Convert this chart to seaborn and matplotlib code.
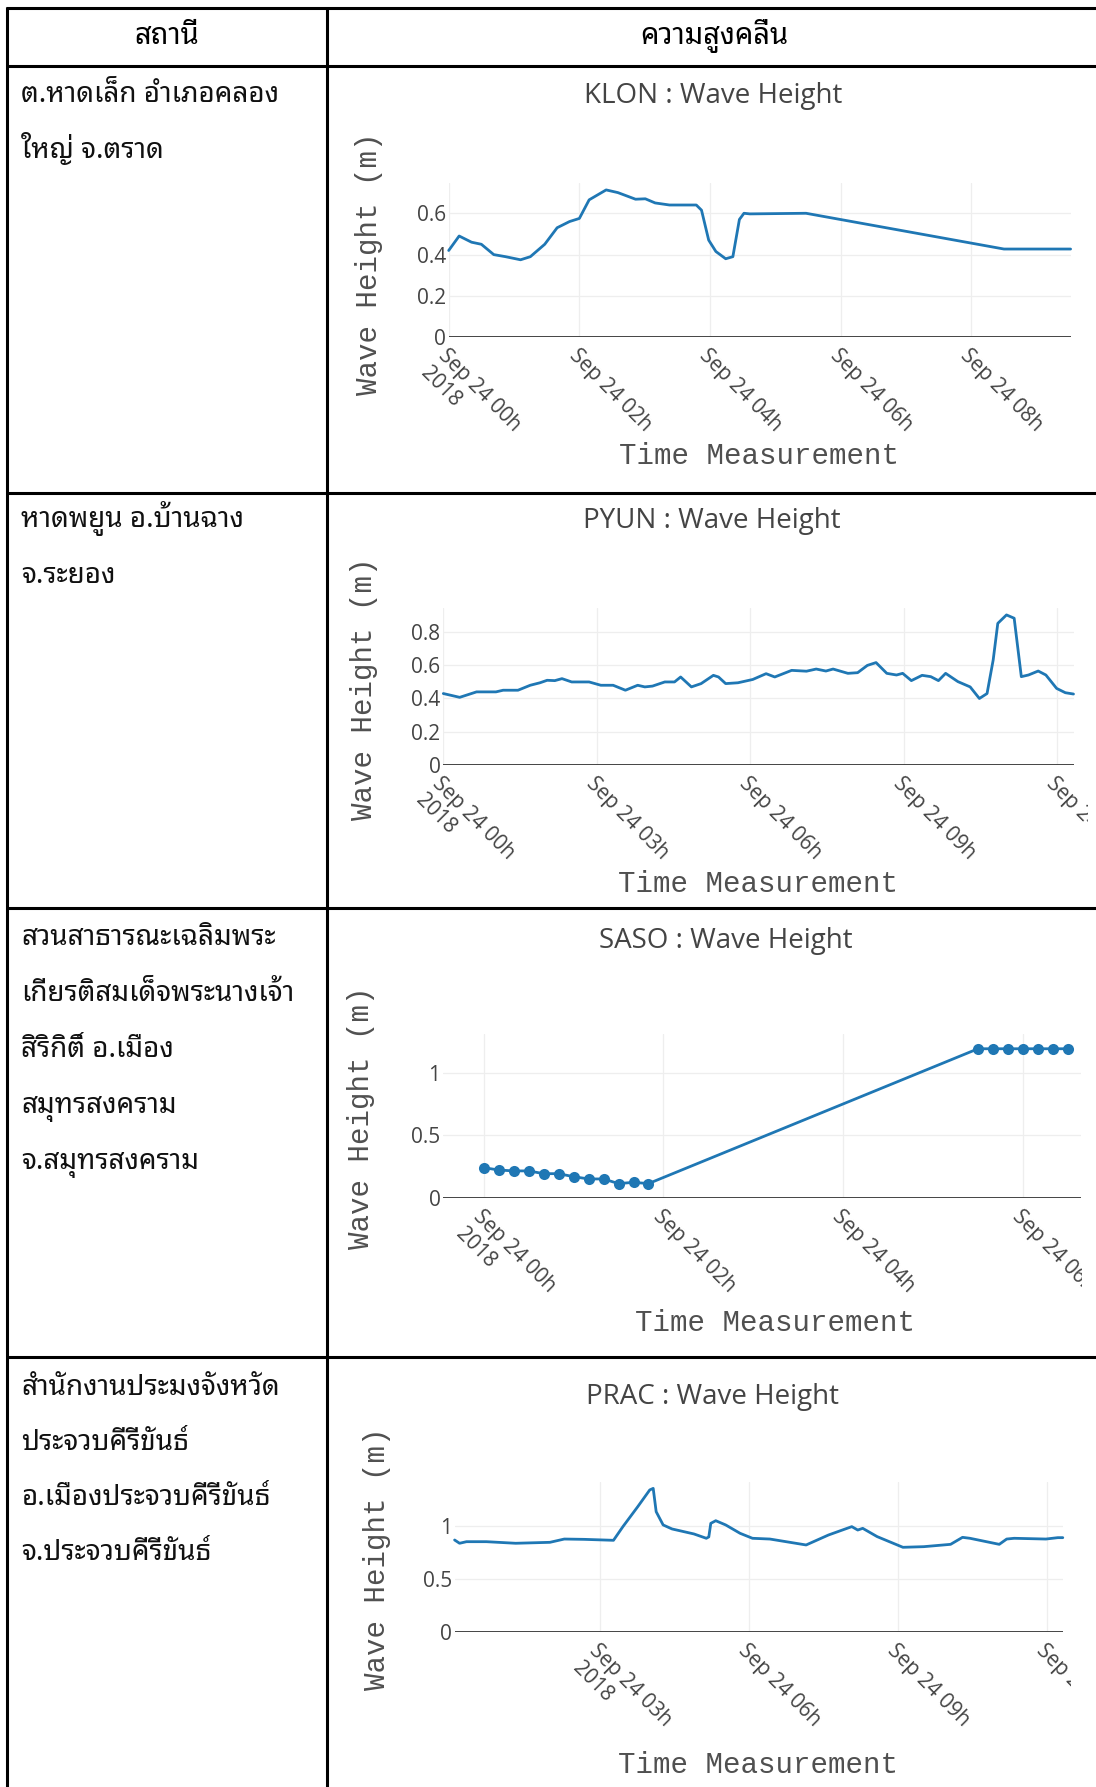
import matplotlib
matplotlib.use("Agg")
import matplotlib.pyplot as plt
import seaborn as sns
from matplotlib.lines import Line2D
from matplotlib.transforms import Bbox, TransformedBbox
from matplotlib import font_manager as fm
from matplotlib.ft2font import FT2Font

# ---------------- data ----------------
header_left = "สถานี"
header_right = "ความสูงคลื่น"

station_lines = [
    ["ต.หาดเล็ก อำเภอคลอง", "ใหญ่ จ.ตราด"],
    ["หาดพยูน อ.บ้านฉาง", "จ.ระยอง"],
    ["สวนสาธารณะเฉลิมพระ", "เกียรติสมเด็จพระนางเจ้า", "สิริกิติ์ อ.เมือง",
     "สมุทรสงคราม", "จ.สมุทรสงคราม"],
    ["สำนักงานประมงจังหวัด", "ประจวบคีรีขันธ์", "อ.เมืองประจวบคีรีขันธ์",
     "จ.ประจวบคีรีขันธ์"],
]

chart_titles = ["KLON : Wave Height", "PYUN : Wave Height",
                "SASO : Wave Height", "PRAC : Wave Height"]
y_title = "Wave Height (m)"
x_title = "Time Measurement"

# hours after Sep 24 2018 00:00, wave height in metres
klon_hours = [0.0, 0.16, 0.35, 0.50, 0.69, 0.87, 1.10, 1.25, 1.47, 1.66, 1.85,
              2.00, 2.15, 2.41, 2.59, 2.86, 3.01, 3.16, 3.38, 3.79, 3.87, 3.98,
              4.09, 4.24, 4.35, 4.45, 4.52, 4.61, 5.47, 8.50, 9.52]
klon_height = [0.42, 0.49, 0.46, 0.45, 0.40, 0.39, 0.375, 0.39, 0.45, 0.53, 0.56,
               0.575, 0.665, 0.713, 0.70, 0.668, 0.67, 0.65, 0.64, 0.64, 0.615,
               0.47, 0.415, 0.38, 0.39, 0.57, 0.60, 0.597, 0.60, 0.427, 0.427]

pyun_hours = [0.0, 0.32, 0.65, 1.03, 1.17, 1.46, 1.70, 1.89, 2.03, 2.18, 2.32,
              2.51, 2.85, 3.08, 3.32, 3.56, 3.80, 3.94, 4.09, 4.33, 4.52, 4.64,
              4.85, 5.04, 5.28, 5.38, 5.52, 5.76, 6.05, 6.31, 6.48, 6.81, 7.10,
              7.29, 7.48, 7.62, 7.91, 8.10, 8.29, 8.46, 8.67, 8.86, 8.98, 9.15,
              9.36, 9.53, 9.68, 9.82, 10.06, 10.30, 10.48, 10.63, 10.75, 10.84,
              11.01, 11.16, 11.30, 11.44, 11.63, 11.78, 11.99, 12.16, 12.32]
pyun_height = [0.43, 0.407, 0.44, 0.44, 0.45, 0.45, 0.48, 0.495, 0.51, 0.508,
               0.52, 0.50, 0.50, 0.48, 0.48, 0.45, 0.48, 0.47, 0.475, 0.50, 0.50,
               0.53, 0.47, 0.49, 0.54, 0.53, 0.49, 0.495, 0.515, 0.55, 0.53, 0.57,
               0.565, 0.578, 0.566, 0.578, 0.552, 0.556, 0.60, 0.617, 0.552,
               0.542, 0.552, 0.508, 0.54, 0.532, 0.508, 0.552, 0.502, 0.47, 0.40,
               0.43, 0.633, 0.854, 0.905, 0.885, 0.532, 0.542, 0.566, 0.542,
               0.461, 0.435, 0.427]

saso_hours = [0.0, 0.167, 0.333, 0.5, 0.667, 0.833, 1.0, 1.167, 1.333, 1.5,
              1.667, 1.833, 5.5, 5.667, 5.833, 6.0, 6.167, 6.333, 6.5]
saso_height = [0.244, 0.225, 0.218, 0.218, 0.196, 0.196, 0.172, 0.154, 0.154,
               0.117, 0.127, 0.117, 1.19, 1.19, 1.19, 1.19, 1.19, 1.19, 1.19]

prac_hours = [0.07, 0.17, 0.31, 0.71, 1.30, 1.99, 2.28, 2.68, 3.27, 3.46, 3.76,
              4.00, 4.07, 4.13, 4.27, 4.45, 4.89, 5.14, 5.19, 5.23, 5.33, 5.53,
              5.82, 6.07, 6.42, 7.15, 7.60, 8.07, 8.19, 8.29, 8.58, 9.10, 9.52,
              10.06, 10.30, 10.45, 11.04, 11.19, 11.34, 11.98, 12.22, 12.32]
prac_height = [0.871, 0.84, 0.855, 0.855, 0.84, 0.849, 0.88, 0.877, 0.868,
               0.997, 1.186, 1.343, 1.358, 1.138, 1.013, 0.975, 0.928, 0.887,
               0.90, 1.028, 1.053, 1.013, 0.934, 0.887, 0.88, 0.824, 0.918,
               0.997, 0.965, 0.981, 0.903, 0.802, 0.808, 0.830, 0.896, 0.887,
               0.830, 0.88, 0.887, 0.88, 0.893, 0.893]

klon_ticks = [0, 2, 4, 6, 8]
klon_ticklabels = ["Sep 24 00h\n2018", "Sep 24 02h", "Sep 24 04h", "Sep 24 06h", "Sep 24 08h"]
pyun_ticks = [0, 3, 6, 9, 12]
pyun_ticklabels = ["Sep 24 00h\n2018", "Sep 24 03h", "Sep 24 06h", "Sep 24 09h", "Sep 24 12h"]
saso_ticks = [0, 2, 4, 6]
saso_ticklabels = ["Sep 24 00h\n2018", "Sep 24 02h", "Sep 24 04h", "Sep 24 06h"]
prac_ticks = [3, 6, 9, 12]
prac_ticklabels = ["Sep 24 03h\n2018", "Sep 24 06h", "Sep 24 09h", "Sep 24 12h"]

yticks_a = [0, 0.2, 0.4, 0.6]
yticks_b = [0, 0.2, 0.4, 0.6, 0.8]
yticks_c = [0, 0.5, 1]
ytl_a = ["0", "0.2", "0.4", "0.6"]
ytl_b = ["0", "0.2", "0.4", "0.6", "0.8"]
ytl_c = ["0", "0.5", "1"]

# ---------------- fonts ----------------
def weight_num(w):
    if isinstance(w, (int, float)):
        return float(w)
    return float(fm.weight_dict.get(str(w).lower(), 400))

def find_thai_font():
    prefs = ["Noto Sans Thai Looped", "Noto Sans Thai", "Noto Serif Thai"]
    names = {}
    for fe in fm.fontManager.ttflist:
        names.setdefault(fe.name, []).append(fe)
    chosen = None
    for p in prefs:
        if p in names:
            chosen = p
            break
    if chosen is None:
        ordered = sorted(names.keys(), key=lambda n: (("Thai" not in n), n))
        for name in ordered:
            try:
                if 0x0E01 in FT2Font(names[name][0].fname).get_charmap():
                    chosen = name
                    break
            except Exception:
                pass
    if chosen is None:
        return None, None
    entries = [fe for fe in names[chosen] if "italic" not in str(fe.style).lower()]
    if not entries:
        entries = names[chosen]
    regular = min(entries, key=lambda fe: abs(weight_num(fe.weight) - 380))
    bold = max(entries, key=lambda fe: weight_num(fe.weight))
    return regular.fname, bold.fname

sns.set_theme(style="white")
thai_reg_path, thai_bold_path = find_thai_font()
if thai_reg_path:
    thai_reg = fm.FontProperties(fname=thai_reg_path, size=20)
    thai_bold = fm.FontProperties(fname=thai_bold_path, size=21, weight="bold")
else:
    thai_reg = fm.FontProperties(family="DejaVu Sans", size=20)
    thai_bold = fm.FontProperties(family="DejaVu Sans", size=21, weight="bold")
plt.rcParams["font.family"] = ["Open Sans", "DejaVu Sans"]

W, H = 1096, 1787
fig = plt.figure(figsize=(W / 100, H / 100), dpi=100)
fig.patch.set_facecolor("white")

def fx(x): return x / W
def fy(y): return 1 - y / H

# ---------------- table frame ----------------
def hline(y, x0, x1):
    fig.add_artist(Line2D([fx(x0), fx(x1)], [fy(y), fy(y)], color="black",
                          lw=2.2, transform=fig.transFigure, solid_capstyle="butt"))

def vline(x, y0, y1):
    fig.add_artist(Line2D([fx(x), fx(x)], [fy(y0), fy(y1)], color="black",
                          lw=2.2, transform=fig.transFigure, solid_capstyle="butt"))

for yy in [7.5, 66, 492.5, 908, 1356.5]:
    hline(yy, 5.5, W)
vline(6.7, 6.5, H)
vline(327, 6.5, H)

fig.text(fx(167), fy(36), header_left, fontproperties=thai_bold,
         ha="center", va="center", color="black")
fig.text(fx(714), fy(36), header_right, fontproperties=thai_bold,
         ha="center", va="center", color="black")

row_first_baseline = [102, 527, 945, 1395]
row_spacing = [56, 56, 56, 55]
for lines, b0, sp in zip(station_lines, row_first_baseline, row_spacing):
    for i, t in enumerate(lines):
        fig.text(fx(21), fy(b0 + i * sp), t, fontproperties=thai_reg,
                 ha="left", va="baseline", color="#111111")

# ---------------- charts ----------------
LINE_C = "#1f77b4"
TXT_C = "#444444"

charts = [
    dict(box=(448.7, 183.3, 1070.6, 337.3), xlim=(0, 9.52), ylim=(0, 0.745),
         x=klon_hours, y=klon_height, xt=klon_ticks, xtl=klon_ticklabels,
         yt=yticks_a, ytl=ytl_a, title=chart_titles[0], tpos=(713, 96),
         ylpos=(369, 264), xlpos=(759, 456), clip=W, markers=False),
    dict(box=(443.3, 608.3, 1073.5, 764.7), xlim=(0, 12.32), ylim=(0, 0.945),
         x=pyun_hours, y=pyun_height, xt=pyun_ticks, xtl=pyun_ticklabels,
         yt=yticks_b, ytl=ytl_b, title=chart_titles[1], tpos=(711.5, 521),
         ylpos=(363.5, 689), xlpos=(758, 884), clip=1088, markers=False),
    dict(box=(443.3, 1034.3, 1080.9, 1198.3), xlim=(-0.45, 6.645), ylim=(0, 1.305),
         x=saso_hours, y=saso_height, xt=saso_ticks, xtl=saso_ticklabels,
         yt=yticks_c, ytl=ytl_c, title=chart_titles[2], tpos=(725.7, 941),
         ylpos=(361, 1118), xlpos=(774.7, 1322.7), clip=1082, markers=True),
    dict(box=(454.6, 1481.7, 1062.8, 1632.3), xlim=(0.07, 12.32), ylim=(0, 1.421),
         x=prac_hours, y=prac_height, xt=prac_ticks, xtl=prac_ticklabels,
         yt=yticks_c, ytl=ytl_c, title=chart_titles[3], tpos=(712.6, 1397),
         ylpos=(377, 1559), xlpos=(758.2, 1765), clip=1071, markers=False),
]

for c in charts:
    l, t, r, b = c["box"]
    ax = fig.add_axes([fx(l), fy(b), (r - l) / W, (b - t) / H])
    ax.set_facecolor("none")
    if c["markers"]:
        sns.lineplot(x=c["x"], y=c["y"], ax=ax, color=LINE_C, lw=2.0,
                     marker="o", markersize=8, markeredgewidth=0, clip_on=False)
    else:
        sns.lineplot(x=c["x"], y=c["y"], ax=ax, color=LINE_C, lw=2.0,
                     clip_on=False, solid_joinstyle="round")
    ax.set_xlim(*c["xlim"])
    ax.set_ylim(*c["ylim"])
    ax.set_xticks(c["xt"])
    ax.set_xticklabels(c["xtl"])
    ax.set_yticks(c["yt"])
    ax.set_yticklabels(c["ytl"])
    for s in ax.spines.values():
        s.set_visible(False)
    ax.grid(True, color="#eeeeee", lw=0.9)
    ax.set_axisbelow(True)
    ax.axhline(0, color=TXT_C, lw=1.4, zorder=1.5)
    ax.tick_params(axis="both", length=0, labelsize=15, labelcolor=TXT_C)
    ax.tick_params(axis="x", pad=6)
    ax.tick_params(axis="y", pad=2)
    clipbb = TransformedBbox(Bbox.from_extents(0, 0, c["clip"] / W, 1), fig.transFigure)
    for lbl in ax.get_xticklabels():
        lbl.set_rotation(-45)
        lbl.set_ha("left")
        lbl.set_va("top")
        lbl.set_rotation_mode("anchor")
        lbl.set_fontfamily(["Open Sans", "DejaVu Sans"])
        lbl.set_clip_box(clipbb)
        lbl.set_clip_on(True)
    for lbl in ax.get_yticklabels():
        lbl.set_fontfamily(["Open Sans", "DejaVu Sans"])

    def ax_coords(px, py):
        return (px - l) / (r - l), (b - py) / (b - t)

    tx, ty = ax_coords(*c["tpos"])
    ax.text(tx, ty, c["title"], transform=ax.transAxes, ha="center", va="center",
            fontsize=20, color=TXT_C, family=["Open Sans", "DejaVu Sans"])
    ax.set_ylabel(y_title, fontsize=21, color="#505050",
                  family=["Liberation Mono", "DejaVu Sans Mono"])
    ax.yaxis.label.set_va("center")
    ax.yaxis.set_label_coords(*ax_coords(*c["ylpos"]))
    ax.set_xlabel(x_title, fontsize=21, color="#505050",
                  family=["Liberation Mono", "DejaVu Sans Mono"])
    ax.xaxis.label.set_va("center")
    ax.xaxis.set_label_coords(*ax_coords(*c["xlpos"]))

fig.savefig("out.png", dpi=100, facecolor="white")
